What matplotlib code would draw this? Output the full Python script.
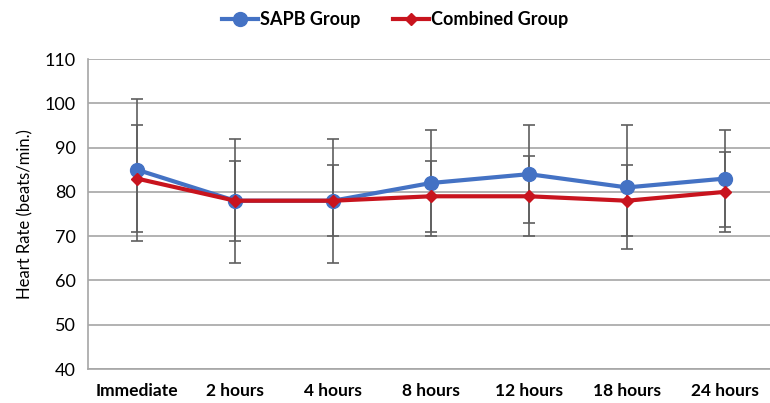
import numpy as np
import matplotlib.pyplot as plt

# time points and heart rate (mean, SD) per group
times = ['Immediate', '2 hours', '4 hours', '8 hours', '12 hours', '18 hours', '24 hours']
sapb_mean = [85, 78, 78, 82, 84, 81, 83]
sapb_sd = [16, 14, 14, 12, 11, 14, 11]
combined_mean = [83, 78, 78, 79, 79, 78, 80]
combined_sd = [12, 9, 8, 8, 9, 8, 9]

plt.rcParams['font.family'] = ['Lato', 'DejaVu Sans']

fig = plt.figure(figsize=(7.7, 4.03), dpi=100)
ax = fig.add_axes([88 / 770, 1 - 369 / 403, 1 - 88 / 770, (369 - 59) / 403])

x = np.arange(len(times))
blue = '#4472C4'
red = '#C8141E'
bar_col = '#5f5f5f'

ax.errorbar(x, sapb_mean, yerr=sapb_sd, fmt='none', ecolor=bar_col,
            elinewidth=1.2, capsize=4, capthick=1.2, zorder=2)
ax.errorbar(x, combined_mean, yerr=combined_sd, fmt='none', ecolor=bar_col,
            elinewidth=1.2, capsize=4, capthick=1.2, zorder=2)
ax.plot(x, sapb_mean, color=blue, linewidth=3, marker='o', markersize=10,
        label='SAPB Group', zorder=3)
ax.plot(x, combined_mean, color=red, linewidth=3, marker='D', markersize=6.5,
        label='Combined Group', zorder=4)

ax.set_ylim(40, 110)
ax.set_yticks(range(40, 111, 10))
ax.set_xlim(-0.5, -0.5 + 682 / 98)
ax.set_xticks(x)
ax.set_xticklabels(times, fontweight='bold', fontsize=12.5)
ax.tick_params(axis='y', labelsize=13, length=0, pad=9, colors='#000000')
ax.tick_params(axis='x', length=0, pad=10)
ax.grid(axis='y', color='#A6A6A6', linewidth=1.2)
ax.set_axisbelow(True)
for s in ['top', 'right']:
    ax.spines[s].set_visible(False)
for s in ['left', 'bottom']:
    ax.spines[s].set_color('#A6A6A6')
    ax.spines[s].set_linewidth(1.2)

ax.set_ylabel('Heart Rate (beats/min.)', fontsize=12, labelpad=8)

leg = fig.legend(loc='center', bbox_to_anchor=(395 / 770, 1 - 20 / 403), ncol=2,
                 frameon=False, handlelength=2.0, handletextpad=0.1,
                 columnspacing=1.8, prop={'weight': 'bold', 'size': 13})

fig.savefig('out.png', dpi=100)
